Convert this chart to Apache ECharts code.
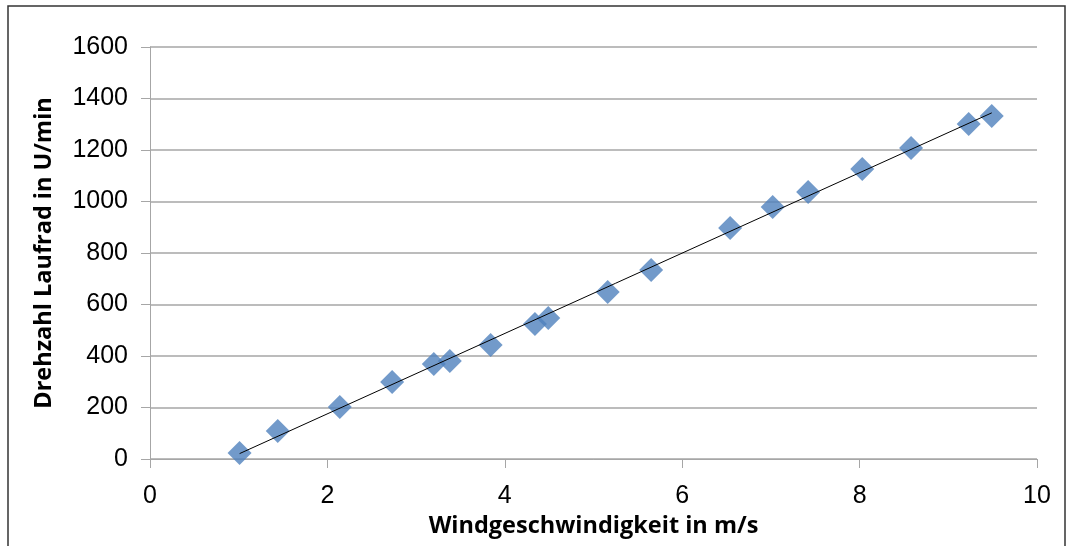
<!DOCTYPE html>
<html>
<head>
<meta charset="utf-8">
<script src="https://cdn.jsdelivr.net/npm/echarts@6/dist/echarts.min.js"></script>
<style>
	html, body { margin: 0; padding: 0; background: #fff; }
	#chart { width: 1069px; height: 546px; }
</style>
</head>
<body>
<div id="chart"></div>
<script>
// Windgeschwindigkeit (m/s)
var windSpeed = [1.01, 1.44, 2.14, 2.73, 3.20, 3.38, 3.84, 4.34, 4.49, 5.16, 5.65, 6.54, 7.02, 7.42, 8.03, 8.58, 9.23, 9.49];
// Drehzahl Laufrad (U/min)
var rpm = [23, 109, 202, 299, 369, 381, 443, 524, 548, 649, 734, 897, 979, 1037, 1126, 1208, 1301, 1332];

var xTicks = [0, 2, 4, 6, 8, 10];
var yTicks = [0, 200, 400, 600, 800, 1000, 1200, 1400, 1600];

// linear trend (least squares), like Excel's trendline
function trend(xs, ys)
{
	var n = xs.length, sx = 0, sy = 0, sxx = 0, sxy = 0;
	for (var i = 0; i < n; i++)
	{
		sx += xs[i]; sy += ys[i];
		sxx += xs[i] * xs[i]; sxy += xs[i] * ys[i];
	}
	var b = (n * sxy - sx * sy) / (n * sxx - sx * sx);
	var a = (sy - b * sx) / n;
	var x0 = Math.min.apply(null, xs), x1 = Math.max.apply(null, xs);
	return [[x0, a + b * x0], [x1, a + b * x1]];
}

var points = windSpeed.map(function(v, i) { return [v, rpm[i]]; });
var gridColor = '#a6a6a6';
var labelFont = { color: '#000', fontFamily: 'Liberation Sans', fontSize: 25, formatter: function(v) { return String(v); } };
var nameFont = { color: '#000', fontFamily: 'Open Sans', fontWeight: 'bold', fontSize: 23.5 };

var chart = echarts.init(document.getElementById('chart'));
chart.setOption({
	animation: false,
	backgroundColor: '#fff',
	grid: { left: 150, right: 32, top: 47, bottom: 87, containLabel: false, outerBoundsMode: 'none' },
	graphic:
	[
		{
			type: 'rect',
			shape: { x: 8, y: 6, width: 1057, height: 560 },
			style: { fill: 'none', stroke: '#333', lineWidth: 1.5 },
			silent: true
		}
	],
	xAxis:
	{
		type: 'value',
		min: xTicks[0],
		max: xTicks[xTicks.length - 1],
		interval: 2,
		name: 'Windgeschwindigkeit in m/s',
		nameLocation: 'middle',
		nameGap: 54,
		nameTextStyle: nameFont,
		axisLine: { show: true, lineStyle: { color: gridColor, width: 1 } },
		axisTick: { show: true, length: 9, lineStyle: { color: gridColor } },
		axisLabel: Object.assign({ margin: 25 }, labelFont),
		splitLine: { show: false }
	},
	yAxis:
	{
		type: 'value',
		min: yTicks[0],
		max: yTicks[yTicks.length - 1],
		interval: 200,
		name: 'Drehzahl Laufrad in U/min',
		nameLocation: 'middle',
		nameGap: 94,
		nameTextStyle: nameFont,
		axisLine: { show: true, lineStyle: { color: gridColor, width: 1 } },
		axisTick: { show: true, length: 9, lineStyle: { color: gridColor } },
		axisLabel: Object.assign({ margin: 22 }, labelFont),
		splitLine: { show: true, lineStyle: { color: gridColor, width: 1.5 } }
	},
	series:
	[
		{
			type: 'scatter',
			data: points,
			symbol: 'diamond',
			symbolSize: [24, 24],
			itemStyle: { color: '#4f81bd' },
			z: 2
		},
		{
			type: 'line',
			data: trend(windSpeed, rpm),
			symbol: 'none',
			lineStyle: { color: '#000', width: 1 },
			z: 3
		}
	]
});
</script>
</body>
</html>
